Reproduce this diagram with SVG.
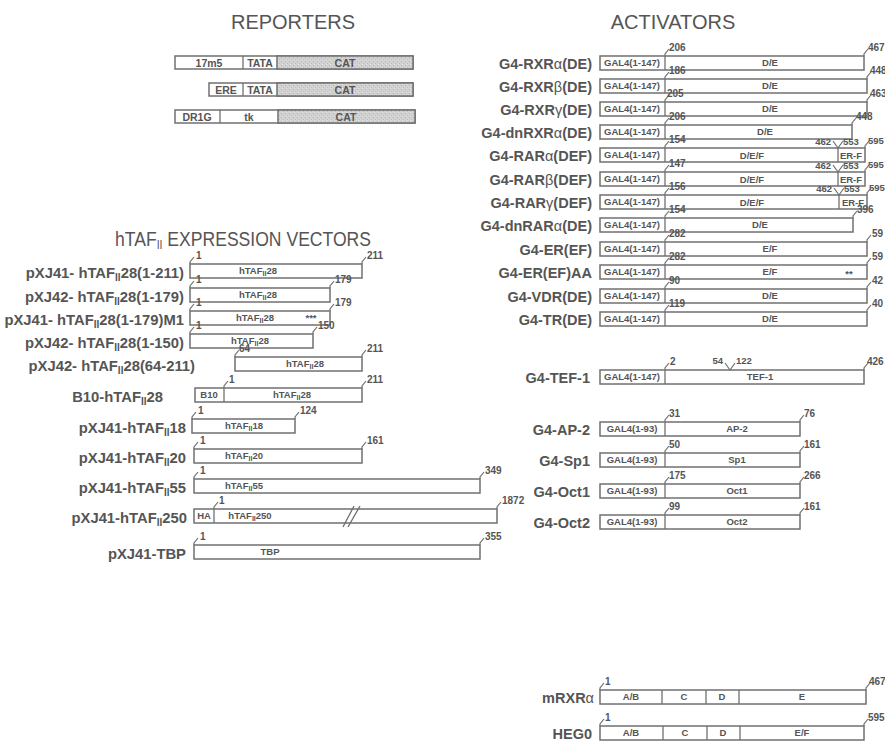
<svg xmlns="http://www.w3.org/2000/svg" width="885" height="753" viewBox="0 0 885 753">
<defs>
<pattern id="dots" width="4" height="4" patternUnits="userSpaceOnUse">
<rect width="4" height="4" fill="#d2d2d2"/>
<rect x="1" y="1" width="1" height="1" fill="#b4b4b4"/>
<rect x="3" y="3" width="1" height="1" fill="#bcbcbc"/>
<rect x="2" y="0" width="1" height="1" fill="#e4e4e4"/>
</pattern>
<style>
text{font-family:"Liberation Sans",Arial,sans-serif;fill:#555}
.h{font-size:20px;text-anchor:middle}
.L{font-size:14.8px;font-weight:bold;text-anchor:end}
.R{font-size:14.5px;font-weight:bold;text-anchor:end}
.g{font-weight:normal}
.s{font-size:10px}
.i{font-size:9.5px;font-weight:bold;text-anchor:middle}
.ir{font-size:10.5px;font-weight:bold;text-anchor:middle}
.si{font-size:7px}
.n{font-size:10px;font-weight:bold}
.m{font-size:9.5px;font-weight:bold}
.me{font-size:9.5px;font-weight:bold;text-anchor:end}
.b{fill:#fff;stroke:#707070;stroke-width:1.5}
.c{fill:url(#dots);stroke:#707070;stroke-width:1.5}
.d{stroke:#707070;stroke-width:1.3;fill:none}
.t{stroke:#707070;stroke-width:1.2;fill:none}
</style>
</defs>

<!-- headings -->
<text class="h" x="293" y="29" font-size="21">REPORTERS</text>
<text class="h" x="673" y="29">ACTIVATORS</text>
<text class="h" x="243" y="246" font-size="18.5" textLength="256" lengthAdjust="spacingAndGlyphs">hTAF<tspan font-size="12" dy="3">II</tspan><tspan dy="-3"> EXPRESSION VECTORS</tspan></text>

<!-- reporters -->
<g id="rep1">
<rect class="b" x="175" y="56" width="238" height="13"/>
<rect class="c" x="277" y="56" width="136" height="13"/>
<line class="d" x1="243" y1="56" x2="243" y2="69"/>
<text class="ir" x="209" y="66.5">17m5</text><text class="ir" x="260" y="66.5">TATA</text><text class="ir" x="345" y="66.5">CAT</text>
</g>
<g id="rep2">
<rect class="b" x="209" y="83" width="204" height="13"/>
<rect class="c" x="277" y="83" width="136" height="13"/>
<line class="d" x1="243" y1="83" x2="243" y2="96"/>
<text class="ir" x="226" y="93.5">ERE</text><text class="ir" x="260" y="93.5">TATA</text><text class="ir" x="345" y="93.5">CAT</text>
</g>
<g id="rep3">
<rect class="b" x="175" y="110" width="240" height="13"/>
<rect class="c" x="278" y="110" width="137" height="13"/>
<line class="d" x1="220" y1="110" x2="220" y2="123"/>
<text class="ir" x="197" y="120.5">DR1G</text><text class="ir" x="249" y="120.5">tk</text><text class="ir" x="346" y="120.5">CAT</text>
</g>

<!-- hTAF expression vectors -->
<g id="v1">
<text class="L" x="184" y="278">pXJ41- hTAF<tspan class="s" dy="3">II</tspan><tspan dy="-3">28(1-211)</tspan></text>
<rect class="b" x="190" y="264" width="172" height="14"/>
<text class="i" x="258" y="274">hTAF<tspan class="si" dy="2">II</tspan><tspan dy="-2">28</tspan></text>
<path class="t" d="M190,264v-2l4,-5M362,264v-2l4,-5"/>
<text class="n" x="196" y="259">1</text><text class="n" x="367" y="259">211</text>
</g>
<g id="v2">
<text class="L" x="184" y="302">pXJ42- hTAF<tspan class="s" dy="3">II</tspan><tspan dy="-3">28(1-179)</tspan></text>
<rect class="b" x="190" y="288" width="140" height="14"/>
<text class="i" x="258" y="298">hTAF<tspan class="si" dy="2">II</tspan><tspan dy="-2">28</tspan></text>
<path class="t" d="M190,288v-2l4,-5M330,288v-2l4,-5"/>
<text class="n" x="196" y="283">1</text><text class="n" x="335" y="283">179</text>
</g>
<g id="v3">
<text class="L" x="184" y="325">pXJ41- hTAF<tspan class="s" dy="3">II</tspan><tspan dy="-3">28(1-179)M1</tspan></text>
<rect class="b" x="190" y="311" width="140" height="14"/>
<text class="i" x="255" y="321">hTAF<tspan class="si" dy="2">II</tspan><tspan dy="-2">28</tspan></text>
<text class="i" x="311" y="321">***</text>
<path class="t" d="M190,311v-2l4,-5M330,311v-2l4,-5"/>
<text class="n" x="196" y="306">1</text><text class="n" x="335" y="306">179</text>
</g>
<g id="v4">
<text class="L" x="184" y="348">pXJ42- hTAF<tspan class="s" dy="3">II</tspan><tspan dy="-3">28(1-150)</tspan></text>
<rect class="b" x="190" y="334" width="123" height="14"/>
<text class="i" x="250" y="344">hTAF<tspan class="si" dy="2">II</tspan><tspan dy="-2">28</tspan></text>
<path class="t" d="M190,334v-2l4,-5M313,334v-2l4,-5"/>
<text class="n" x="196" y="329">1</text><text class="n" x="318" y="329">150</text>
</g>
<g id="v5">
<text class="L" x="195" y="371">pXJ42- hTAF<tspan class="s" dy="3">II</tspan><tspan dy="-3">28(64-211)</tspan></text>
<rect class="b" x="235" y="357" width="127" height="14"/>
<text class="i" x="305" y="367">hTAF<tspan class="si" dy="2">II</tspan><tspan dy="-2">28</tspan></text>
<path class="t" d="M235,357v-2l4,-5M362,357v-2l4,-5"/>
<text class="n" x="239" y="352">64</text><text class="n" x="367" y="352">211</text>
</g>
<g id="v6">
<text class="L" x="163" y="402">B10-hTAF<tspan class="s" dy="3">II</tspan><tspan dy="-3">28</tspan></text>
<rect class="b" x="195" y="388" width="167" height="14"/>
<line class="d" x1="224" y1="388" x2="224" y2="402"/>
<text class="i" x="209" y="398">B10</text>
<text class="i" x="292" y="398">hTAF<tspan class="si" dy="2">II</tspan><tspan dy="-2">28</tspan></text>
<path class="t" d="M224,388v-2l4,-5M362,388v-2l4,-5"/>
<text class="n" x="229" y="383">1</text><text class="n" x="367" y="383">211</text>
</g>
<g id="v7">
<text class="L" x="186" y="433">pXJ41-hTAF<tspan class="s" dy="3">II</tspan><tspan dy="-3">18</tspan></text>
<rect class="b" x="192" y="419" width="103" height="14"/>
<text class="i" x="244" y="429">hTAF<tspan class="si" dy="2">II</tspan><tspan dy="-2">18</tspan></text>
<path class="t" d="M192,419v-2l4,-5M295,419v-2l4,-5"/>
<text class="n" x="198" y="414">1</text><text class="n" x="300" y="414">124</text>
</g>
<g id="v8">
<text class="L" x="186" y="463">pXJ41-hTAF<tspan class="s" dy="3">II</tspan><tspan dy="-3">20</tspan></text>
<rect class="b" x="194" y="449" width="168" height="14"/>
<text class="i" x="244" y="459">hTAF<tspan class="si" dy="2">II</tspan><tspan dy="-2">20</tspan></text>
<path class="t" d="M194,449v-2l4,-5M362,449v-2l4,-5"/>
<text class="n" x="200" y="444">1</text><text class="n" x="367" y="444">161</text>
</g>
<g id="v9">
<text class="L" x="186" y="493">pXJ41-hTAF<tspan class="s" dy="3">II</tspan><tspan dy="-3">55</tspan></text>
<rect class="b" x="194" y="479" width="286" height="14"/>
<text class="i" x="244" y="489">hTAF<tspan class="si" dy="2">II</tspan><tspan dy="-2">55</tspan></text>
<path class="t" d="M194,479v-2l4,-5M480,479v-2l4,-5"/>
<text class="n" x="200" y="474">1</text><text class="n" x="485" y="474">349</text>
</g>
<g id="v10">
<text class="L" x="187" y="523">pXJ41-hTAF<tspan class="s" dy="3">II</tspan><tspan dy="-3">250</tspan></text>
<rect class="b" x="194" y="509" width="303" height="14"/>
<line class="d" x1="214" y1="509" x2="214" y2="523"/>
<text class="i" x="204" y="519">HA</text>
<text class="i" x="250" y="519">hTAF<tspan class="si" dy="2">II</tspan><tspan dy="-2">250</tspan></text>
<path class="d" d="M343,527L354,506M348,527L360,506"/>
<path class="t" d="M214,509v-2l4,-5M497,509v-2l4,-5"/>
<text class="n" x="219" y="504">1</text><text class="n" x="502" y="504">1872</text>
</g>
<g id="v11">
<text class="L" x="186" y="559">pXJ41-TBP</text>
<rect class="b" x="194" y="545" width="286" height="14"/>
<text class="i" x="270" y="555">TBP</text>
<path class="t" d="M194,545v-2l4,-5M480,545v-2l4,-5"/>
<text class="n" x="200" y="540">1</text><text class="n" x="485" y="540">355</text>
</g>

<!-- activators -->
<g id="a1">
<text class="R" x="592" y="69">G4-RXR<tspan class="g">α</tspan>(DE)</text>
<rect class="b" x="600" y="56" width="264" height="14"/>
<line class="d" x1="665" y1="56" x2="665" y2="70"/>
<text class="i" x="632" y="66">GAL4(1-147)</text><text class="i" x="770" y="66">D/E</text>
<path class="t" d="M665,56v-2l4,-5M864,56v-2l4,-5"/>
<text class="n" x="669" y="51">206</text><text class="n" x="868" y="51">467</text>
</g>
<g id="a2">
<text class="R" x="592" y="92">G4-RXR<tspan class="g">β</tspan>(DE)</text>
<rect class="b" x="600" y="79" width="267" height="14"/>
<line class="d" x1="665" y1="79" x2="665" y2="93"/>
<text class="i" x="632" y="89">GAL4(1-147)</text><text class="i" x="770" y="89">D/E</text>
<path class="t" d="M665,79v-2l4,-5M867,79v-2l4,-5"/>
<text class="n" x="669" y="74">186</text><text class="n" x="870" y="74">448</text>
</g>
<g id="a3">
<text class="R" x="592" y="115">G4-RXR<tspan class="g">γ</tspan>(DE)</text>
<rect class="b" x="600" y="102" width="267" height="14"/>
<line class="d" x1="665" y1="102" x2="665" y2="116"/>
<text class="i" x="632" y="112">GAL4(1-147)</text><text class="i" x="770" y="112">D/E</text>
<path class="t" d="M665,102v-2l4,-5M867,102v-2l4,-5"/>
<text class="n" x="667" y="97">205</text><text class="n" x="870" y="97">463</text>
</g>
<g id="a4">
<text class="R" x="592" y="138">G4-dnRXR<tspan class="g">α</tspan>(DE)</text>
<rect class="b" x="600" y="125" width="252" height="14"/>
<line class="d" x1="665" y1="125" x2="665" y2="139"/>
<text class="i" x="632" y="135">GAL4(1-147)</text><text class="i" x="765" y="135">D/E</text>
<path class="t" d="M665,125v-2l4,-5M852,125v-2l4,-5"/>
<text class="n" x="669" y="120">206</text><text class="n" x="856" y="120">448</text>
</g>
<g id="a5">
<text class="R" x="592" y="161">G4-RAR<tspan class="g">α</tspan>(DEF)</text>
<rect class="b" x="600" y="148" width="265" height="14"/>
<line class="d" x1="665" y1="148" x2="665" y2="162"/><line class="d" x1="838" y1="148" x2="838" y2="162"/>
<text class="i" x="632" y="158">GAL4(1-147)</text><text class="i" x="752" y="159">D/E/F</text><text class="i" x="851" y="158.5">ER-F</text>
<path class="t" d="M665,148v-2l4,-5M865,148v-2l4,-5M833,141L838,148L843,141"/>
<text class="n" x="669" y="143">154</text><text class="me" x="831" y="144.5">462</text><text class="m" x="843" y="144.5">553</text><text class="m" x="868" y="144">595</text>
</g>
<g id="a6">
<text class="R" x="592" y="185">G4-RAR<tspan class="g">β</tspan>(DEF)</text>
<rect class="b" x="600" y="172" width="265" height="14"/>
<line class="d" x1="665" y1="172" x2="665" y2="186"/><line class="d" x1="838" y1="172" x2="838" y2="186"/>
<text class="i" x="632" y="182">GAL4(1-147)</text><text class="i" x="752" y="183">D/E/F</text><text class="i" x="851" y="182.5">ER-F</text>
<path class="t" d="M665,172v-2l4,-5M865,172v-2l4,-5M833,165L838,172L843,165"/>
<text class="n" x="669" y="167">147</text><text class="me" x="831" y="168.5">462</text><text class="m" x="843" y="168.5">553</text><text class="m" x="868" y="168">595</text>
</g>
<g id="a7">
<text class="R" x="592" y="208">G4-RAR<tspan class="g">γ</tspan>(DEF)</text>
<rect class="b" x="600" y="195" width="267" height="14"/>
<line class="d" x1="665" y1="195" x2="665" y2="209"/><line class="d" x1="839" y1="195" x2="839" y2="209"/>
<text class="i" x="632" y="205">GAL4(1-147)</text><text class="i" x="752" y="206">D/E/F</text><text class="i" x="853" y="205.5">ER-F</text>
<path class="t" d="M665,195v-2l4,-5M867,195v-2l4,-5M834,188L839,195L844,188"/>
<text class="n" x="669" y="190">156</text><text class="me" x="832" y="191.5">462</text><text class="m" x="844" y="191.5">553</text><text class="m" x="869" y="191">595</text>
</g>
<g id="a8">
<text class="R" x="592" y="231">G4-dnRAR<tspan class="g">α</tspan>(DE)</text>
<rect class="b" x="600" y="218" width="253" height="14"/>
<line class="d" x1="665" y1="218" x2="665" y2="232"/>
<text class="i" x="632" y="228">GAL4(1-147)</text><text class="i" x="760" y="228">D/E</text>
<path class="t" d="M665,218v-2l4,-5M853,218v-2l4,-5"/>
<text class="n" x="669" y="213">154</text><text class="n" x="857" y="213">396</text>
</g>
<g id="a9">
<text class="R" x="592" y="255">G4-ER(EF)</text>
<rect class="b" x="600" y="242" width="267" height="14"/>
<line class="d" x1="665" y1="242" x2="665" y2="256"/>
<text class="i" x="632" y="252">GAL4(1-147)</text><text class="i" x="770" y="252">E/F</text>
<path class="t" d="M665,242v-2l4,-5M867,242v-2l4,-5"/>
<text class="n" x="669" y="237">282</text><text class="n" x="872" y="237">59</text>
</g>
<g id="a10">
<text class="R" x="592" y="278">G4-ER(EF)AA</text>
<rect class="b" x="600" y="265" width="267" height="14"/>
<line class="d" x1="665" y1="265" x2="665" y2="279"/>
<text class="i" x="632" y="275">GAL4(1-147)</text><text class="i" x="770" y="275">E/F</text><text class="i" x="849" y="277">**</text>
<path class="t" d="M665,265v-2l4,-5M867,265v-2l4,-5"/>
<text class="n" x="669" y="260">282</text><text class="n" x="872" y="260">59</text>
</g>
<g id="a11">
<text class="R" x="592" y="302">G4-VDR(DE)</text>
<rect class="b" x="600" y="289" width="267" height="14"/>
<line class="d" x1="665" y1="289" x2="665" y2="303"/>
<text class="i" x="632" y="299">GAL4(1-147)</text><text class="i" x="770" y="299">D/E</text>
<path class="t" d="M665,289v-2l4,-5M867,289v-2l4,-5"/>
<text class="n" x="669" y="284">90</text><text class="n" x="872" y="284">42</text>
</g>
<g id="a12">
<text class="R" x="592" y="325">G4-TR(DE)</text>
<rect class="b" x="600" y="312" width="267" height="14"/>
<line class="d" x1="665" y1="312" x2="665" y2="326"/>
<text class="i" x="632" y="322">GAL4(1-147)</text><text class="i" x="770" y="322">D/E</text>
<path class="t" d="M665,312v-2l4,-5M867,312v-2l4,-5"/>
<text class="n" x="669" y="307">119</text><text class="n" x="872" y="307">40</text>
</g>
<g id="a13">
<text class="R" x="590" y="383">G4-TEF-1</text>
<rect class="b" x="600" y="370" width="264" height="14"/>
<line class="d" x1="665" y1="370" x2="665" y2="384"/>
<text class="i" x="632" y="380">GAL4(1-147)</text><text class="i" x="760" y="380">TEF-1</text>
<path class="t" d="M665,370v-2l4,-5M864,370v-2l4,-5M725,363L730,370L735,363"/>
<text class="n" x="670" y="365">2</text><text class="me" x="723" y="364">54</text><text class="m" x="736" y="364">122</text><text class="n" x="867" y="365">426</text>
</g>
<g id="a14">
<text class="R" x="590" y="435">G4-AP-2</text>
<rect class="b" x="600" y="422" width="200" height="14"/>
<line class="d" x1="665" y1="422" x2="665" y2="436"/>
<text class="i" x="632" y="432">GAL4(1-93)</text><text class="i" x="737" y="432">AP-2</text>
<path class="t" d="M665,422v-2l4,-5M800,422v-2l4,-5"/>
<text class="n" x="669" y="417">31</text><text class="n" x="804" y="417">76</text>
</g>
<g id="a15">
<text class="R" x="590" y="466">G4-Sp1</text>
<rect class="b" x="600" y="453" width="200" height="14"/>
<line class="d" x1="665" y1="453" x2="665" y2="467"/>
<text class="i" x="632" y="463">GAL4(1-93)</text><text class="i" x="737" y="463">Sp1</text>
<path class="t" d="M665,453v-2l4,-5M800,453v-2l4,-5"/>
<text class="n" x="669" y="448">50</text><text class="n" x="804" y="448">161</text>
</g>
<g id="a16">
<text class="R" x="590" y="497">G4-Oct1</text>
<rect class="b" x="600" y="484" width="200" height="14"/>
<line class="d" x1="665" y1="484" x2="665" y2="498"/>
<text class="i" x="632" y="494">GAL4(1-93)</text><text class="i" x="737" y="494">Oct1</text>
<path class="t" d="M665,484v-2l4,-5M800,484v-2l4,-5"/>
<text class="n" x="669" y="479">175</text><text class="n" x="804" y="479">266</text>
</g>
<g id="a17">
<text class="R" x="590" y="528">G4-Oct2</text>
<rect class="b" x="600" y="515" width="200" height="14"/>
<line class="d" x1="665" y1="515" x2="665" y2="529"/>
<text class="i" x="632" y="525">GAL4(1-93)</text><text class="i" x="737" y="525">Oct2</text>
<path class="t" d="M665,515v-2l4,-5M800,515v-2l4,-5"/>
<text class="n" x="669" y="510">99</text><text class="n" x="804" y="510">161</text>
</g>
<g id="a18">
<text class="R" x="594" y="703">mRXR<tspan class="g">α</tspan></text>
<rect class="b" x="600" y="690" width="266" height="14"/>
<path class="d" d="M662,690v14M706,690v14M739,690v14"/>
<text class="i" x="631" y="700">A/B</text><text class="i" x="684" y="700">C</text><text class="i" x="722" y="700">D</text><text class="i" x="802" y="700">E</text>
<path class="t" d="M600,690v-2l4,-5M866,690v-2l4,-5"/>
<text class="n" x="605" y="685">1</text><text class="n" x="869" y="685">467</text>
</g>
<g id="a19">
<text class="R" x="592" y="739">HEG0</text>
<rect class="b" x="600" y="726" width="264" height="14"/>
<path class="d" d="M663,726v14M707,726v14M740,726v14"/>
<text class="i" x="631" y="736">A/B</text><text class="i" x="685" y="736">C</text><text class="i" x="723" y="736">D</text><text class="i" x="802" y="736">E/F</text>
<path class="t" d="M600,726v-2l4,-5M864,726v-2l4,-5"/>
<text class="n" x="605" y="721">1</text><text class="n" x="868" y="721">595</text>
</g>
</svg>
